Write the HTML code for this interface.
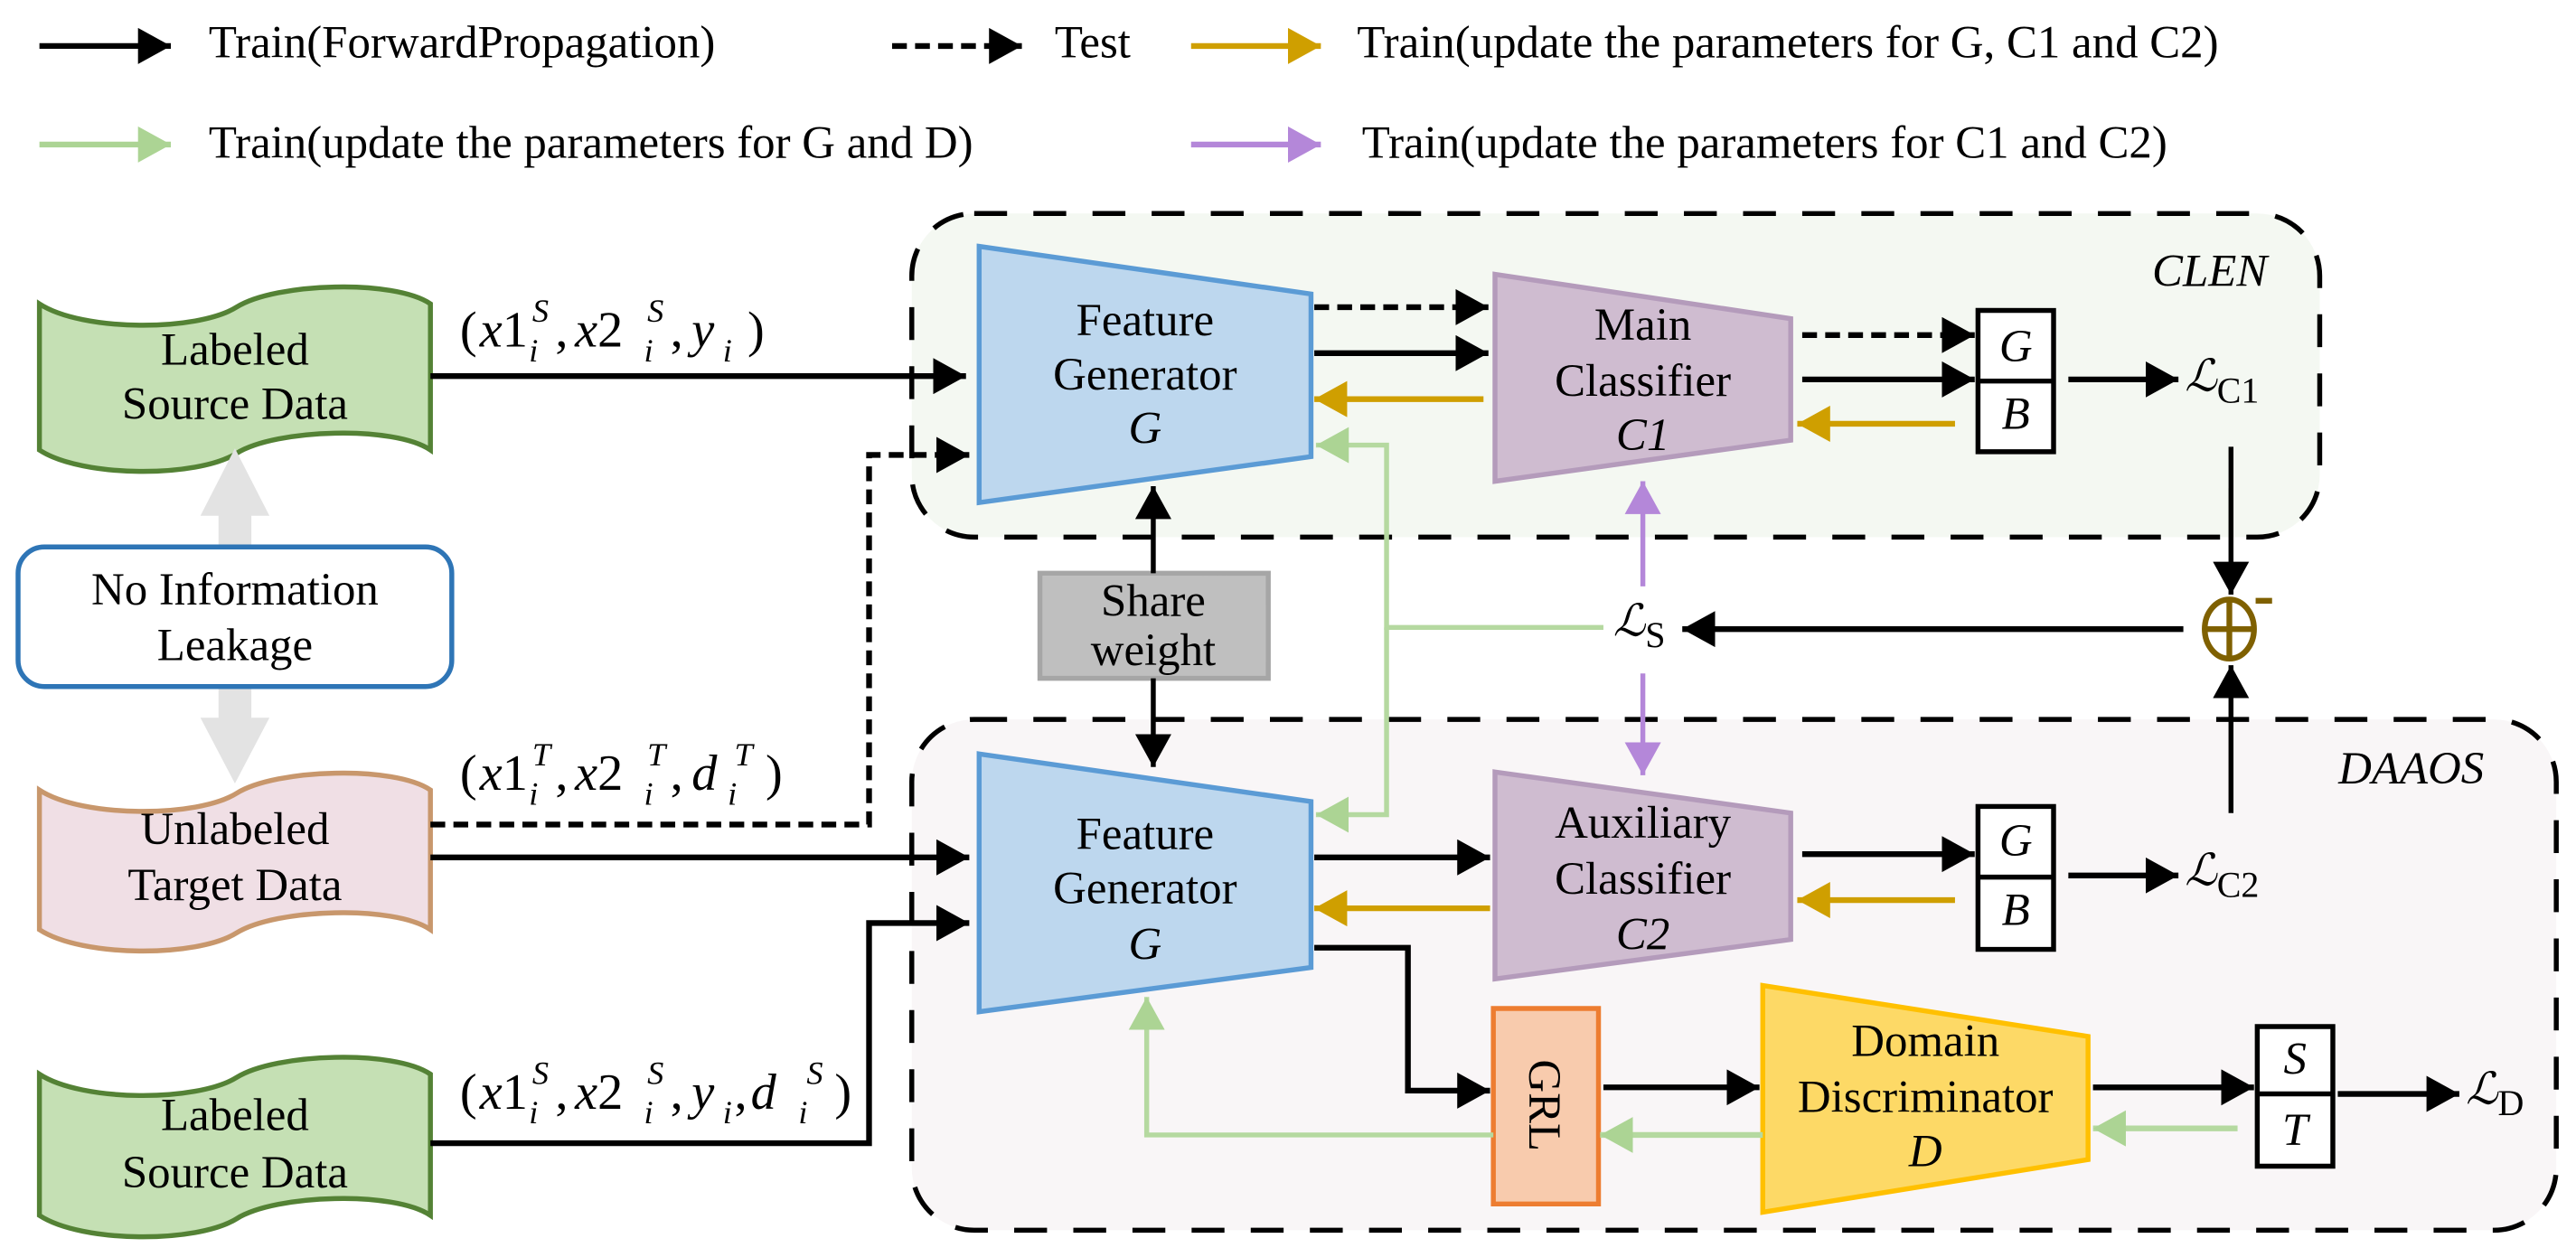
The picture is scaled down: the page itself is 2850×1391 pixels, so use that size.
<!DOCTYPE html>
<html><head><meta charset="utf-8"><style>
html,body{margin:0;padding:0;background:#fff;}
svg{display:block;}
text{font-family:"Liberation Serif","DejaVu Serif",serif;}
.t{font-size:28px;}
.n{font-size:28px;text-anchor:middle;}
.it{font-style:italic;}
.m{font-size:31px;}
.ms{font-size:20px;font-style:italic;}
text.L{font-family:"DejaVu Serif","Liberation Serif",serif;font-style:italic;font-size:27px;}
.sub{font-family:"Liberation Serif",serif;font-style:normal;font-size:22px;}
</style></head><body>
<svg width="2850" height="1391" viewBox="0 0 1568 765.3" preserveAspectRatio="none" xmlns="http://www.w3.org/2000/svg">
<defs>
<marker id="ak" markerUnits="userSpaceOnUse" markerWidth="22" markerHeight="22" refX="20" refY="11" orient="auto"><path d="M0,0 L20,11 L0,22 z" fill="#000"/></marker>
<marker id="ag" markerUnits="userSpaceOnUse" markerWidth="22" markerHeight="22" refX="20" refY="11" orient="auto"><path d="M0,0 L20,11 L0,22 z" fill="#cf9f00"/></marker>
<marker id="agr" markerUnits="userSpaceOnUse" markerWidth="22" markerHeight="22" refX="20" refY="11" orient="auto"><path d="M0,0 L20,11 L0,22 z" fill="#acd494"/></marker>
<marker id="ap" markerUnits="userSpaceOnUse" markerWidth="22" markerHeight="22" refX="20" refY="11" orient="auto"><path d="M0,0 L20,11 L0,22 z" fill="#b487d9"/></marker>
</defs>
<g fill="#000" transform="rotate(0.001 784 382)">

<!-- Legend -->
<line x1="24" y1="28" x2="104" y2="28" stroke="#000" stroke-width="3.5" marker-end="url(#ak)"/>
<text class="t" x="127" y="35">Train(ForwardPropagation)</text>
<line x1="543" y1="28" x2="622" y2="28" stroke="#000" stroke-width="3.5" stroke-dasharray="9,5" marker-end="url(#ak)"/>
<text class="t" x="642" y="35">Test</text>
<line x1="725" y1="28" x2="804" y2="28" stroke="#cf9f00" stroke-width="3.5" marker-end="url(#ag)"/>
<text class="t" x="826" y="35">Train(update the parameters for G, C1 and C2)</text>
<line x1="24" y1="88" x2="104" y2="88" stroke="#acd494" stroke-width="3.5" marker-end="url(#agr)"/>
<text class="t" x="127" y="96">Train(update the parameters for G and D)</text>
<line x1="725" y1="88" x2="804" y2="88" stroke="#b487d9" stroke-width="3.5" marker-end="url(#ap)"/>
<text class="t" x="829" y="96">Train(update the parameters for C1 and C2)</text>

<!-- group boxes -->
<rect x="555" y="130" width="857" height="197" rx="38" fill="#f4f8f2" stroke="#000" stroke-width="3" stroke-dasharray="20,16"/>
<rect x="555" y="438" width="1001" height="311" rx="38" fill="#f9f6f7" stroke="#000" stroke-width="3" stroke-dasharray="20,16"/>
<text x="1380" y="174" class="t it" font-size="29" text-anchor="end">CLEN</text>
<text x="1512" y="477" class="t it" font-size="29" text-anchor="end">DAAOS</text>

<!-- data shapes -->
<path d="M24,185 C50,202 120,202 144,187 C168,172 240,170 262,185 L262,274 C240,259 168,261 144,276 C120,291 50,291 24,274 Z" fill="#c5e0b4" stroke="#548235" stroke-width="3"/>
<text class="n" x="143" y="222">Labeled</text><text class="n" x="143" y="255">Source Data</text>
<path d="M24,481 C50,498 120,498 144,483 C168,468 240,466 262,481 L262,566 C240,551 168,553 144,568 C120,583 50,583 24,566 Z" fill="#f0dfe5" stroke="#c8976c" stroke-width="3"/>
<text class="n" x="143" y="514">Unlabeled</text><text class="n" x="143" y="548">Target Data</text>
<path d="M24,654 C50,671 120,671 144,656 C168,641 240,639 262,654 L262,740 C240,725 168,727 144,742 C120,757 50,757 24,740 Z" fill="#c5e0b4" stroke="#548235" stroke-width="3"/>
<text class="n" x="143" y="688">Labeled</text><text class="n" x="143" y="723">Source Data</text>

<!-- gray double arrow -->
<path d="M133,332 L133,314 L122,314 L143,273 L164,314 L153,314 L153,332 Z" fill="#e3e3e3"/>
<path d="M133,419 L133,437 L122,437 L143,477 L164,437 L153,437 L153,419 Z" fill="#e3e3e3"/>
<rect x="11" y="333" width="264" height="85" rx="16" fill="#fff" stroke="#2e75b6" stroke-width="3"/>
<text class="n" x="143" y="368">No Information</text><text class="n" x="143" y="402">Leakage</text>

<!-- Math labels -->
<g>
<text x="280" y="211" class="m">(</text><text x="292" y="211" class="m"><tspan class="it">x</tspan>1</text>
<text x="324" y="196" class="ms">S</text><text x="322" y="220" class="ms">i</text>
<text x="338" y="211" class="m">,</text><text x="350" y="211" class="m"><tspan class="it">x</tspan>2</text>
<text x="394" y="196" class="ms">S</text><text x="392" y="220" class="ms">i</text>
<text x="408" y="211" class="m">,</text><text x="421" y="211" class="m it">y</text><text x="440" y="220" class="ms">i</text>
<text x="455" y="211" class="m">)</text>
</g>
<g>
<text x="280" y="481" class="m">(</text><text x="292" y="481" class="m"><tspan class="it">x</tspan>1</text>
<text x="324" y="466" class="ms">T</text><text x="322" y="490" class="ms">i</text>
<text x="338" y="481" class="m">,</text><text x="350" y="481" class="m"><tspan class="it">x</tspan>2</text>
<text x="394" y="466" class="ms">T</text><text x="392" y="490" class="ms">i</text>
<text x="408" y="481" class="m">,</text><text x="421" y="481" class="m it">d</text>
<text x="447" y="466" class="ms">T</text><text x="443" y="490" class="ms">i</text>
<text x="466" y="481" class="m">)</text>
</g>
<g>
<text x="280" y="675" class="m">(</text><text x="292" y="675" class="m"><tspan class="it">x</tspan>1</text>
<text x="324" y="660" class="ms">S</text><text x="322" y="684" class="ms">i</text>
<text x="338" y="675" class="m">,</text><text x="350" y="675" class="m"><tspan class="it">x</tspan>2</text>
<text x="394" y="660" class="ms">S</text><text x="392" y="684" class="ms">i</text>
<text x="408" y="675" class="m">,</text><text x="421" y="675" class="m it">y</text><text x="440" y="684" class="ms">i</text>
<text x="447" y="675" class="m">,</text><text x="457" y="675" class="m it">d</text>
<text x="491" y="660" class="ms">S</text><text x="486" y="684" class="ms">i</text>
<text x="508" y="675" class="m">)</text>
</g>

<!-- input arrows -->
<line x1="262" y1="229" x2="588" y2="229" stroke="#000" stroke-width="3.5" marker-end="url(#ak)"/>
<polyline points="262,502 529,502 529,277 590,277" fill="none" stroke="#000" stroke-width="3.5" stroke-dasharray="9,5" marker-end="url(#ak)"/>
<line x1="262" y1="522" x2="590" y2="522" stroke="#000" stroke-width="3.5" marker-end="url(#ak)"/>
<polyline points="262,696 529,696 529,562 590,562" fill="none" stroke="#000" stroke-width="3.5" marker-end="url(#ak)"/>

<!-- Feature generators -->
<polygon points="596,150 798,179 798,278 596,306" fill="#bdd7ee" stroke="#5b9bd5" stroke-width="3"/>
<text class="n" x="697" y="204">Feature</text><text class="n" x="697" y="237">Generator</text><text class="n it" x="697" y="270">G</text>
<polygon points="596,459 798,488 798,589 596,616" fill="#bdd7ee" stroke="#5b9bd5" stroke-width="3"/>
<text class="n" x="697" y="517">Feature</text><text class="n" x="697" y="550">Generator</text><text class="n it" x="697" y="584">G</text>

<!-- share weight -->
<rect x="633" y="349" width="139" height="64" fill="#bfbfbf" stroke="#a6a6a6" stroke-width="3"/>
<text class="n" x="702" y="375">Share</text><text class="n" x="702" y="405">weight</text>
<line x1="702" y1="349" x2="702" y2="296" stroke="#000" stroke-width="3" marker-end="url(#ak)"/>
<line x1="702" y1="413" x2="702" y2="467" stroke="#000" stroke-width="3" marker-end="url(#ak)"/>

<!-- classifiers -->
<polygon points="910,167 1090,194 1090,268 910,293" fill="#cfbcd0" stroke="#b49bbb" stroke-width="3"/>
<text class="n" x="1000" y="207">Main</text><text class="n" x="1000" y="241">Classifier</text><text class="n it" x="1000" y="274">C1</text>
<polygon points="910,470 1090,495 1090,572 910,596" fill="#cfbcd0" stroke="#b49bbb" stroke-width="3"/>
<text class="n" x="1000" y="510">Auxiliary</text><text class="n" x="1000" y="544">Classifier</text><text class="n it" x="1000" y="578">C2</text>

<!-- GRL and D -->
<rect x="909" y="614" width="64" height="119" fill="#f8cbad" stroke="#ed7d31" stroke-width="3"/>
<text class="n" x="0" y="0" transform="translate(931,673) rotate(90)">GRL</text>
<polygon points="1073,600 1271,631 1271,706 1073,738" fill="#fdd966" stroke="#ffc000" stroke-width="3"/>
<text class="n" x="1172" y="643">Domain</text><text class="n" x="1172" y="677">Discriminator</text><text class="n it" x="1172" y="710">D</text>

<!-- G/B boxes -->
<rect x="1204" y="189" width="46" height="86" fill="#fff" stroke="#000" stroke-width="3"/>
<line x1="1204" y1="232" x2="1250" y2="232" stroke="#000" stroke-width="3"/>
<text class="n it" x="1227" y="220">G</text><text class="n it" x="1227" y="261">B</text>
<rect x="1204" y="491" width="46" height="87" fill="#fff" stroke="#000" stroke-width="3"/>
<line x1="1204" y1="534" x2="1250" y2="534" stroke="#000" stroke-width="3"/>
<text class="n it" x="1227" y="521">G</text><text class="n it" x="1227" y="563">B</text>
<rect x="1374" y="625" width="46" height="85" fill="#fff" stroke="#000" stroke-width="3"/>
<line x1="1374" y1="666" x2="1420" y2="666" stroke="#000" stroke-width="3"/>
<text class="n it" x="1397" y="654">S</text><text class="n it" x="1397" y="697">T</text>

<!-- losses -->
<text x="1330" y="238" class="L">ℒ<tspan class="sub" dy="7">C1</tspan></text>
<text x="1330" y="539" class="L">ℒ<tspan class="sub" dy="7">C2</tspan></text>
<text x="1501" y="672" class="L">ℒ<tspan class="sub" dy="7">D</tspan></text>
<text x="982" y="387" class="L">ℒ<tspan class="sub" dy="7">S</tspan></text>

<!-- oplus -->
<ellipse cx="1357" cy="383" rx="15" ry="18" fill="none" stroke="#7f6000" stroke-width="3.5"/>
<line x1="1342" y1="383" x2="1372" y2="383" stroke="#7f6000" stroke-width="3.5"/>
<line x1="1357" y1="365" x2="1357" y2="401" stroke="#7f6000" stroke-width="3.5"/>
<rect x="1373" y="364" width="10" height="3.5" fill="#7f6000"/>

<!-- CLEN arrows -->
<line x1="800" y1="187" x2="906" y2="187" stroke="#000" stroke-width="3.5" stroke-dasharray="9,5" marker-end="url(#ak)"/>
<line x1="800" y1="215" x2="906" y2="215" stroke="#000" stroke-width="3.5" marker-end="url(#ak)"/>
<line x1="903" y1="243" x2="800" y2="243" stroke="#cf9f00" stroke-width="3.5" marker-end="url(#ag)"/>
<line x1="1097" y1="204" x2="1202" y2="204" stroke="#000" stroke-width="3.5" stroke-dasharray="9,5" marker-end="url(#ak)"/>
<line x1="1097" y1="231" x2="1202" y2="231" stroke="#000" stroke-width="3.5" marker-end="url(#ak)"/>
<line x1="1190" y1="258" x2="1094" y2="258" stroke="#cf9f00" stroke-width="3.5" marker-end="url(#ag)"/>
<line x1="1259" y1="231" x2="1326" y2="231" stroke="#000" stroke-width="3.5" marker-end="url(#ak)"/>
<line x1="1358" y1="272" x2="1358" y2="362" stroke="#000" stroke-width="3" marker-end="url(#ak)"/>
<line x1="1329" y1="383" x2="1024" y2="383" stroke="#000" stroke-width="3.5" marker-end="url(#ak)"/>
<line x1="1358" y1="495" x2="1358" y2="405" stroke="#000" stroke-width="3" marker-end="url(#ak)"/>

<!-- purple -->
<line x1="1000" y1="357" x2="1000" y2="293" stroke="#b487d9" stroke-width="3" marker-end="url(#ap)"/>
<line x1="1000" y1="410" x2="1000" y2="472" stroke="#b487d9" stroke-width="3" marker-end="url(#ap)"/>

<!-- green from Ls -->
<polyline points="976,382 844,382 844,271 801,271" fill="none" stroke="#b5d9a0" stroke-width="3" marker-end="url(#agr)"/>
<polyline points="844,382 844,496 801,496" fill="none" stroke="#b5d9a0" stroke-width="3" marker-end="url(#agr)"/>

<!-- DAAOS arrows -->
<line x1="800" y1="522" x2="907" y2="522" stroke="#000" stroke-width="3.5" marker-end="url(#ak)"/>
<line x1="907" y1="553" x2="800" y2="553" stroke="#cf9f00" stroke-width="3.5" marker-end="url(#ag)"/>
<line x1="1097" y1="520" x2="1202" y2="520" stroke="#000" stroke-width="3.5" marker-end="url(#ak)"/>
<line x1="1190" y1="548" x2="1094" y2="548" stroke="#cf9f00" stroke-width="3.5" marker-end="url(#ag)"/>
<line x1="1259" y1="533" x2="1326" y2="533" stroke="#000" stroke-width="3.5" marker-end="url(#ak)"/>
<polyline points="800,577 857,577 857,664 907,664" fill="none" stroke="#000" stroke-width="3.5" marker-end="url(#ak)"/>
<line x1="976" y1="662" x2="1071" y2="662" stroke="#000" stroke-width="3.5" marker-end="url(#ak)"/>
<line x1="1073" y1="691" x2="974" y2="691" stroke="#b5d9a0" stroke-width="3.5" marker-end="url(#agr)"/>
<polyline points="909,691 698,691 698,607" fill="none" stroke="#b5d9a0" stroke-width="3" marker-end="url(#agr)"/>
<line x1="1274" y1="662" x2="1372" y2="662" stroke="#000" stroke-width="3.5" marker-end="url(#ak)"/>
<line x1="1362" y1="687" x2="1274" y2="687" stroke="#b5d9a0" stroke-width="3.5" marker-end="url(#agr)"/>
<line x1="1423" y1="666" x2="1497" y2="666" stroke="#000" stroke-width="3.5" marker-end="url(#ak)"/>
</g>
</svg>
</body></html>
